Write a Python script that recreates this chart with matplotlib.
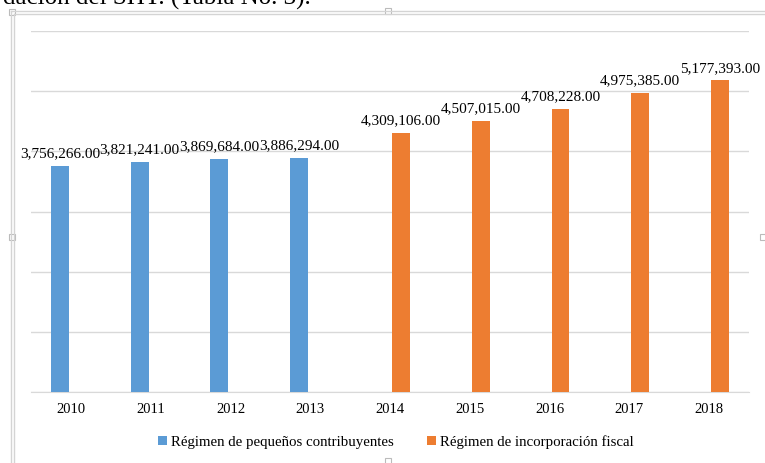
import matplotlib.pyplot as plt
import numpy as np

years = ["2010", "2011", "2012", "2013", "2014", "2015", "2016", "2017", "2018"]
# Régimen de pequeños contribuyentes (2010-2013)
repeco = [3756266.00, 3821241.00, 3869684.00, 3886294.00, None, None, None, None, None]
# Régimen de incorporación fiscal (2014-2018)
rif = [None, None, None, None, 4309106.00, 4507015.00, 4708228.00, 4975385.00, 5177393.00]

blue = "#5B9BD5"
orange = "#ED7D31"
plt.rcParams["font.family"] = ["Liberation Serif", "DejaVu Serif"]

fig = plt.figure(figsize=(7.65, 4.63), dpi=100)
ax = fig.add_axes([31 / 765, 1 - 392 / 463, 718 / 765, 361 / 463])

x = np.arange(len(years))
w = 0.225
off = 0.1375
xb = [x[i] - off for i, v in enumerate(repeco) if v is not None]
yb = [v for v in repeco if v is not None]
xo = [x[i] + off for i, v in enumerate(rif) if v is not None]
yo = [v for v in rif if v is not None]

b1 = ax.bar(xb, yb, width=w, color=blue, label="Régimen de pequeños contribuyentes", zorder=3)
b2 = ax.bar(xo, yo, width=w, color=orange, label="Régimen de incorporación fiscal", zorder=3)
for bars in (b1, b2):
    ax.bar_label(bars, labels=[f"{b.get_height():,.2f}" for b in bars], padding=4, fontsize=11)

ax.set_xlim(-0.5, len(years) - 0.5)
ax.set_ylim(0, 6000000)
ax.set_yticks(np.arange(0, 6000001, 1000000))
ax.yaxis.grid(True, color="#D9D9D9", lw=1)
ax.set_axisbelow(True)
ax.set_yticklabels([])
ax.tick_params(axis="y", length=0)
ax.set_xticks(x)
ax.set_xticklabels(years, fontsize=10.5)
ax.tick_params(axis="x", length=0, pad=8)
for s in ["top", "right", "left"]:
    ax.spines[s].set_visible(False)
ax.spines["bottom"].set_color("#D9D9D9")

fig.legend(handles=[b1, b2], loc="center", bbox_to_anchor=(396 / 765, 1 - 442 / 463), ncol=2,
           frameon=False, fontsize=10.7, handlelength=0.6, handleheight=0.6,
           handletextpad=0.3, columnspacing=2.2)

# Word frame around the chart
fc = "#D4D4D4"
for px in (10.5, 13.5):
    fig.add_artist(plt.Line2D([px / 765, px / 765], [0, 1 - px / 463], color=fc, lw=1))
for py in (10.5, 13.5):
    fig.add_artist(plt.Line2D([py / 765, 1], [1 - py / 463, 1 - py / 463], color=fc, lw=1))
for hx, hy in [(12, 12), (388, 11), (12, 237), (763, 237), (388, 461)]:
    fig.add_artist(plt.Rectangle(((hx - 3) / 765, 1 - (hy + 3) / 463), 6 / 765, 6 / 463,
                                 facecolor="white", edgecolor="#BBBBBB", lw=0.8))

# clipped line of body text above the chart
fig.text(3 / 765, 1 - 5 / 463, "dación del SHT. (Tabla No. 3).", fontsize=18, va="baseline")

fig.savefig("out.png", dpi=100)
